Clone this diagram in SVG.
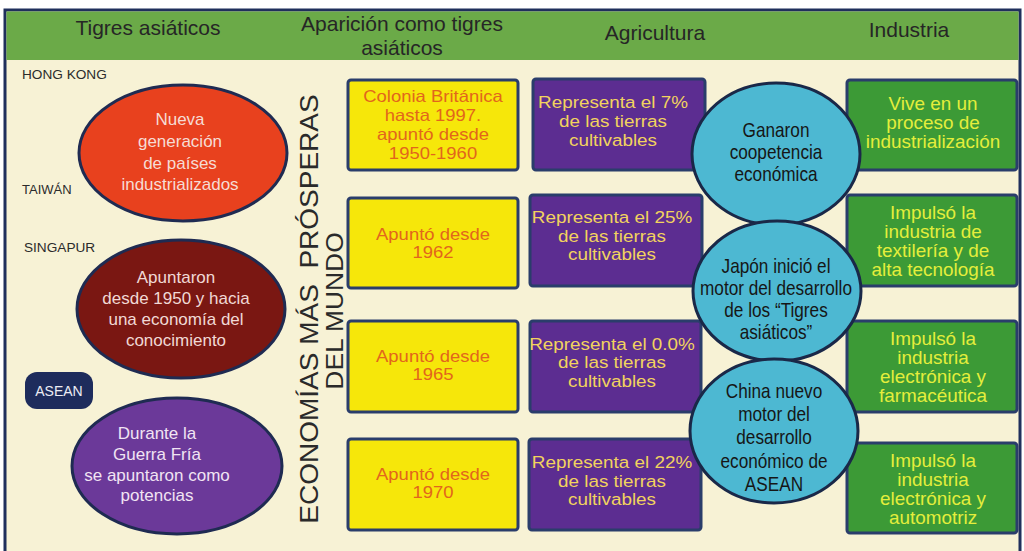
<svg xmlns="http://www.w3.org/2000/svg" width="1024" height="551" viewBox="0 0 1024 551">
<style>
text{font-family:"Liberation Sans",Arial,Helvetica,sans-serif;text-anchor:middle}
.h{font-size:21px;fill:#262626}
.lab{font-size:13px;fill:#2b2b2b;text-anchor:start}
.e{font-size:17px}
.yb{font-size:16.5px;fill:#E2661C}
.pb{font-size:17px;fill:#F2D35E}
.gb{font-size:17.5px;fill:#E4EE3C}
.cc{font-size:20px;fill:#161616}
.vt{font-size:25px;fill:#2a2a2a}
.box{stroke:#2A3D6B;stroke-width:3}
.ell{stroke:#1F2B52;stroke-width:3}
.y{fill:#F6E70A}
.p{fill:#5C2D91}
.g{fill:#3C9A36}
.c{fill:#4DB8D2;stroke:#1A2848;stroke-width:3}
</style>
<rect x="5" y="10" width="1015" height="560" fill="#F7F2D5" stroke="#1F2F5C" stroke-width="3"/>
<rect x="6.5" y="11.5" width="1012" height="48.5" fill="#6BAA48"/>
<g id="headers">
<text class="h" x="148" y="35">Tigres asiáticos</text>
<text class="h" x="402" y="31">Aparición como tigres</text>
<text class="h" x="402" y="55">asiáticos</text>
<text class="h" x="655" y="40">Agricultura</text>
<text class="h" x="909" y="37">Industria</text>
</g>
<g id="labels">
<text class="lab" x="22" y="79" transform="translate(22,0) scale(1.05,1) translate(-22,0)">HONG KONG</text>
<text class="lab" x="22" y="194">TAIWÁN</text>
<text class="lab" x="24" y="252" transform="translate(24,0) scale(1.05,1) translate(-24,0)">SINGAPUR</text>
</g>
<g id="e1">
<ellipse class="ell" cx="183" cy="153" rx="104" ry="68" fill="#E8411E"/>
<text class="e" fill="#F6DCD4"><tspan x="180" y="125">Nueva</tspan><tspan x="180" y="147">generación</tspan><tspan x="180" y="169">de países</tspan><tspan x="180" y="190">industrializados</tspan></text>
</g>
<g id="e2">
<ellipse class="ell" cx="181" cy="309" rx="104" ry="69" fill="#7A1712"/>
<text class="e" fill="#F1D9D5"><tspan x="176" y="283">Apuntaron</tspan><tspan x="176" y="304">desde 1950 y hacia</tspan><tspan x="176" y="325">una economía del</tspan><tspan x="176" y="346">conocimiento</tspan></text>
</g>
<g id="asean">
<rect x="25" y="372" width="68" height="37" rx="12" fill="#1E2C5C"/>
<text x="59" y="396" font-size="14" fill="#ECECF4">ASEAN</text>
</g>
<g id="e3">
<ellipse class="ell" cx="177" cy="466" rx="105" ry="68" fill="#6B3999"/>
<text class="e" fill="#F1E4F3"><tspan x="157" y="439">Durante la</tspan><tspan x="157" y="460">Guerra Fría</tspan><tspan x="157" y="481">se apuntaron como</tspan><tspan x="157" y="501">potencias</tspan></text>
</g>
<g id="vertical">
<text class="vt" transform="translate(318,309) rotate(-90) scale(1.12,1)" x="0" y="0">ECONOMÍAS MÁS&#160; PRÓSPERAS</text>
<text class="vt" font-size="24" transform="translate(343,311) rotate(-90) scale(1.1,1)" x="0" y="0" style="font-size:24px">DEL MUNDO</text>
</g>
<g id="y1">
<rect class="box y" x="348" y="80" width="170" height="90" rx="3"/>
<text class="yb" transform="translate(433,0) scale(1.12,1)"><tspan x="0" y="102">Colonia Británica</tspan><tspan x="0" y="121">hasta 1997.</tspan><tspan x="0" y="140">apuntó desde</tspan><tspan x="0" y="159">1950-1960</tspan></text>
</g>
<g id="y2">
<rect class="box y" x="348" y="198" width="170" height="90" rx="3"/>
<text class="yb" transform="translate(433,0) scale(1.12,1)"><tspan x="0" y="240">Apuntó desde</tspan><tspan x="0" y="258">1962</tspan></text>
</g>
<g id="y3">
<rect class="box y" x="348" y="321" width="170" height="91" rx="3"/>
<text class="yb" transform="translate(433,0) scale(1.12,1)"><tspan x="0" y="362">Apuntó desde</tspan><tspan x="0" y="380">1965</tspan></text>
</g>
<g id="y4">
<rect class="box y" x="348" y="439" width="170" height="91" rx="3"/>
<text class="yb" transform="translate(433,0) scale(1.12,1)"><tspan x="0" y="480">Apuntó desde</tspan><tspan x="0" y="498">1970</tspan></text>
</g>
<g id="p1">
<rect class="box p" x="533" y="79" width="172" height="91" rx="3"/>
<text class="pb" transform="translate(613,0) scale(1.11,1)"><tspan x="0" y="108">Representa el 7%</tspan><tspan x="0" y="127">de las tierras</tspan><tspan x="0" y="146">cultivables</tspan></text>
</g>
<g id="p2">
<rect class="box p" x="530" y="195" width="172" height="91" rx="3"/>
<text class="pb" transform="translate(612,0) scale(1.11,1)"><tspan x="0" y="223">Representa el 25%</tspan><tspan x="0" y="242">de las tierras</tspan><tspan x="0" y="260">cultivables</tspan></text>
</g>
<g id="p3">
<rect class="box p" x="530" y="321" width="171" height="91" rx="3"/>
<text class="pb" transform="translate(612,0) scale(1.11,1)"><tspan x="0" y="350">Representa el 0.0%</tspan><tspan x="0" y="368">de las tierras</tspan><tspan x="0" y="387">cultivables</tspan></text>
</g>
<g id="p4">
<rect class="box p" x="529" y="439" width="172" height="91" rx="3"/>
<text class="pb" transform="translate(612,0) scale(1.11,1)"><tspan x="0" y="468">Representa el 22%</tspan><tspan x="0" y="487">de las tierras</tspan><tspan x="0" y="505">cultivables</tspan></text>
</g>
<g id="g1">
<rect class="box g" x="847" y="80" width="170" height="90" rx="3"/>
<text class="gb" transform="translate(933,0) scale(1.08,1)"><tspan x="0" y="110">Vive en un</tspan><tspan x="0" y="129">proceso de</tspan><tspan x="0" y="148">industrialización</tspan></text>
</g>
<g id="g2">
<rect class="box g" x="847" y="195" width="170" height="91" rx="3"/>
<text class="gb" transform="translate(933,0) scale(1.08,1)"><tspan x="0" y="219">Impulsó la</tspan><tspan x="0" y="238">industria de</tspan><tspan x="0" y="257">textilería y de</tspan><tspan x="0" y="276">alta tecnología</tspan></text>
</g>
<g id="g3">
<rect class="box g" x="847" y="321" width="170" height="91" rx="3"/>
<text class="gb" transform="translate(933,0) scale(1.08,1)"><tspan x="0" y="345">Impulsó la</tspan><tspan x="0" y="364">industria</tspan><tspan x="0" y="383">electrónica y</tspan><tspan x="0" y="402">farmacéutica</tspan></text>
</g>
<g id="g4">
<rect class="box g" x="847" y="443" width="170" height="90" rx="3"/>
<text class="gb" transform="translate(933,0) scale(1.08,1)"><tspan x="0" y="467">Impulsó la</tspan><tspan x="0" y="486">industria</tspan><tspan x="0" y="505">electrónica y</tspan><tspan x="0" y="524">automotriz</tspan></text>
</g>
<g id="c1">
<ellipse class="c" cx="776" cy="154" rx="84" ry="71"/>
<text class="cc" transform="translate(776,0) scale(0.86,1)"><tspan x="0" y="137">Ganaron</tspan><tspan x="0" y="159">coopetencia</tspan><tspan x="0" y="181">económica</tspan></text>
</g>
<g id="c2">
<ellipse class="c" cx="777" cy="291" rx="84" ry="70"/>
<text class="cc" transform="translate(776,0) scale(0.86,1)"><tspan x="0" y="273">Japón inició el</tspan><tspan x="0" y="295">motor del desarrollo</tspan><tspan x="0" y="317">de los “Tigres</tspan><tspan x="0" y="339">asiáticos”</tspan></text>
</g>
<g id="c3">
<ellipse class="c" cx="774" cy="431" rx="84" ry="72"/>
<text class="cc" transform="translate(774,0) scale(0.86,1)"><tspan x="0" y="398">China nuevo</tspan><tspan x="0" y="421">motor del</tspan><tspan x="0" y="444">desarrollo</tspan><tspan x="0" y="468">económico de</tspan><tspan x="0" y="491">ASEAN</tspan></text>
</g>
</svg>
